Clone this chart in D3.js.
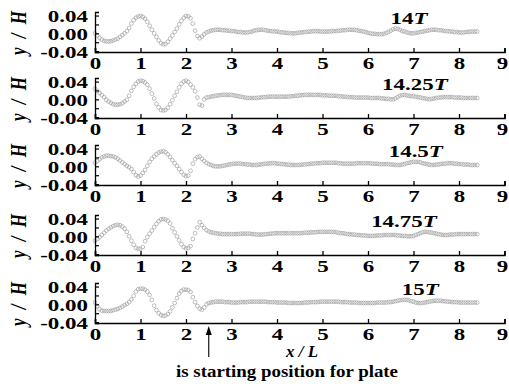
<!DOCTYPE html>
<html><head><meta charset="utf-8">
<script src="https://cdn.jsdelivr.net/npm/d3@7"></script>
<style>html,body{margin:0;padding:0;background:#fff;overflow:hidden}svg{display:block}</style>
</head><body><svg id="chart" width="509" height="384"></svg>
<script>
// ---------------- data ----------------
const panelNames = ["14", "14.25", "14.5", "14.75", "15"];
const xTickValues = [0, 1, 2, 3, 4, 5, 6, 7, 8, 9];
const yTickValues = [-0.04, -0.02, 0, 0.02, 0.04];
const yTickLabels = {"-0.04": "-0.04", "0": "0.00", "0.04": "0.04"};
const xValues = d3.range(170).map(i => +(i * 0.05).toFixed(2)); // sampling grid, 0 .. 8.45
const xMax = 8.4;

const y14 = [
 0.000,-0.005,-0.010,-0.014,-0.017,-0.018,-0.018,-0.018,-0.016,-0.014,
 -0.012,-0.008,-0.004,0.000,0.005,0.012,0.022,0.030,0.035,0.038,
 0.039,0.037,0.033,0.026,0.017,0.008,0.000,-0.008,-0.016,-0.022,
 -0.025,-0.024,-0.019,-0.012,-0.005,0.003,0.011,0.020,0.028,0.035,
 0.039,0.038,0.034,0.022,0.006,-0.006,-0.011,-0.007,-0.002,0.002,
 0.004,0.006,0.007,0.008,0.008,0.008,0.007,0.007,0.006,0.006,
 0.005,0.005,0.004,0.003,0.003,0.002,0.002,0.002,0.003,0.004,
 0.006,0.007,0.008,0.008,0.008,0.007,0.006,0.005,0.005,0.004,
 0.004,0.003,0.002,0.002,0.001,0.001,0.000,0.000,0.000,0.001,
 0.002,0.002,0.003,0.003,0.004,0.004,0.005,0.005,0.005,0.004,
 0.004,0.004,0.004,0.004,0.005,0.005,0.005,0.006,0.006,0.007,
 0.007,0.008,0.008,0.008,0.008,0.007,0.006,0.005,0.004,0.003,
 0.001,0.000,-0.001,-0.001,-0.002,-0.002,-0.002,-0.001,0.001,0.003,
 0.006,0.009,0.011,0.010,0.008,0.005,0.004,0.002,0.001,0.000,
 0.000,0.001,0.002,0.003,0.004,0.005,0.006,0.007,0.008,0.008,
 0.008,0.007,0.007,0.006,0.005,0.005,0.004,0.004,0.003,0.003,
 0.002,0.002,0.002,0.003,0.003,0.004,0.004,0.004,0.004,0.004];

const y1425 = [
 0.024,0.019,0.014,0.010,0.005,-0.001,-0.005,-0.008,-0.011,-0.012,
 -0.012,-0.011,-0.009,-0.005,-0.001,0.008,0.019,0.028,0.035,0.040,
 0.042,0.041,0.038,0.033,0.024,0.013,0.002,-0.010,-0.018,-0.024,
 -0.025,-0.024,-0.019,-0.011,-0.002,0.008,0.017,0.027,0.035,0.040,
 0.042,0.039,0.033,0.027,0.018,0.004,-0.012,-0.014,0.000,0.004,
 0.005,0.006,0.007,0.008,0.009,0.009,0.010,0.010,0.010,0.010,
 0.010,0.009,0.008,0.007,0.006,0.005,0.004,0.003,0.003,0.003,
 0.003,0.003,0.004,0.004,0.005,0.005,0.006,0.006,0.006,0.006,
 0.006,0.006,0.006,0.006,0.006,0.006,0.007,0.007,0.008,0.008,
 0.009,0.009,0.010,0.010,0.010,0.010,0.010,0.010,0.010,0.010,
 0.009,0.009,0.009,0.008,0.008,0.008,0.008,0.007,0.007,0.006,
 0.006,0.005,0.005,0.005,0.004,0.004,0.004,0.004,0.004,0.004,
 0.004,0.003,0.003,0.003,0.003,0.003,0.002,0.002,0.001,0.001,
 0.000,0.000,0.002,0.005,0.008,0.010,0.010,0.009,0.008,0.007,
 0.007,0.006,0.005,0.004,0.003,0.002,0.001,0.000,0.001,0.002,
 0.003,0.004,0.004,0.005,0.005,0.005,0.005,0.005,0.004,0.004,
 0.004,0.004,0.003,0.003,0.003,0.003,0.003,0.003,0.003,0.003];

const y145 = [
 0.008,0.012,0.016,0.020,0.022,0.024,0.024,0.023,0.022,0.020,
 0.017,0.013,0.009,0.005,0.001,-0.002,-0.006,-0.013,-0.020,-0.023,
 -0.021,-0.015,-0.008,0.001,0.010,0.017,0.022,0.027,0.031,0.033,
 0.034,0.032,0.027,0.021,0.014,0.007,0.001,-0.006,-0.013,-0.019,
 -0.022,-0.021,-0.010,0.006,0.016,0.021,0.022,0.017,0.012,0.008,
 0.005,0.003,0.001,0.000,0.000,0.000,0.001,0.002,0.003,0.004,
 0.005,0.006,0.006,0.006,0.006,0.005,0.005,0.004,0.004,0.003,
 0.003,0.003,0.004,0.004,0.005,0.006,0.006,0.007,0.007,0.007,
 0.006,0.006,0.005,0.005,0.004,0.004,0.003,0.003,0.003,0.003,
 0.003,0.004,0.004,0.005,0.005,0.006,0.006,0.007,0.007,0.007,
 0.008,0.008,0.008,0.008,0.008,0.008,0.008,0.007,0.007,0.006,
 0.006,0.006,0.006,0.006,0.006,0.007,0.007,0.007,0.007,0.007,
 0.007,0.007,0.006,0.006,0.006,0.005,0.005,0.005,0.005,0.005,
 0.004,0.004,0.003,0.003,0.003,0.004,0.005,0.007,0.008,0.009,
 0.010,0.010,0.010,0.009,0.007,0.006,0.005,0.004,0.003,0.003,
 0.004,0.004,0.005,0.006,0.006,0.007,0.007,0.007,0.006,0.006,
 0.005,0.005,0.004,0.004,0.004,0.003,0.003,0.003,0.003,0.003];

const y1475 = [
 -0.010,-0.006,-0.002,0.003,0.008,0.013,0.017,0.020,0.023,0.025,
 0.026,0.025,0.022,0.017,0.010,0.000,-0.010,-0.019,-0.026,-0.028,
 -0.028,-0.024,-0.011,-0.002,0.006,0.013,0.021,0.028,0.034,0.038,
 0.039,0.038,0.035,0.029,0.018,0.009,0.000,-0.009,-0.018,-0.024,
 -0.027,-0.026,-0.022,-0.006,0.007,0.020,0.032,0.025,0.019,0.014,
 0.011,0.009,0.008,0.007,0.006,0.006,0.005,0.005,0.005,0.005,
 0.005,0.005,0.005,0.005,0.006,0.006,0.006,0.006,0.006,0.005,
 0.005,0.004,0.004,0.004,0.004,0.005,0.005,0.006,0.006,0.007,
 0.007,0.007,0.007,0.007,0.007,0.007,0.007,0.007,0.007,0.007,
 0.007,0.007,0.008,0.008,0.008,0.009,0.009,0.009,0.010,0.010,
 0.010,0.010,0.010,0.010,0.010,0.010,0.009,0.008,0.007,0.007,
 0.006,0.005,0.005,0.004,0.004,0.003,0.003,0.002,0.002,0.002,
 0.001,0.001,0.001,0.001,0.002,0.002,0.002,0.003,0.003,0.003,
 0.003,0.003,0.003,0.002,0.002,0.001,0.001,0.000,0.000,0.000,
 0.001,0.003,0.005,0.007,0.009,0.010,0.010,0.009,0.008,0.007,
 0.006,0.005,0.004,0.003,0.003,0.003,0.004,0.004,0.004,0.005,
 0.005,0.005,0.005,0.005,0.005,0.005,0.005,0.005,0.005,0.005];

const y15 = [
 0.004,-0.004,-0.011,-0.014,-0.015,-0.015,-0.015,-0.015,-0.013,-0.012,
 -0.010,-0.008,-0.005,-0.002,0.001,0.005,0.011,0.019,0.029,0.034,
 0.035,0.035,0.033,0.029,0.021,0.010,-0.003,-0.013,-0.020,-0.024,
 -0.026,-0.025,-0.022,-0.016,-0.007,0.003,0.014,0.024,0.030,0.033,
 0.033,0.032,0.028,0.016,0.005,-0.004,-0.010,-0.012,-0.007,0.000,
 0.003,0.004,0.005,0.006,0.006,0.006,0.006,0.005,0.005,0.005,
 0.004,0.004,0.004,0.004,0.005,0.005,0.005,0.005,0.006,0.006,
 0.006,0.006,0.006,0.006,0.006,0.006,0.005,0.005,0.005,0.005,
 0.004,0.004,0.004,0.004,0.004,0.003,0.003,0.003,0.003,0.003,
 0.003,0.003,0.004,0.004,0.004,0.005,0.005,0.005,0.005,0.006,
 0.006,0.006,0.006,0.006,0.006,0.006,0.006,0.006,0.005,0.005,
 0.005,0.005,0.004,0.004,0.004,0.004,0.003,0.003,0.003,0.003,
 0.003,0.003,0.003,0.003,0.004,0.004,0.004,0.004,0.004,0.005,
 0.005,0.006,0.007,0.008,0.009,0.010,0.010,0.010,0.009,0.007,
 0.006,0.004,0.003,0.003,0.003,0.004,0.005,0.006,0.007,0.008,
 0.008,0.008,0.008,0.007,0.007,0.006,0.006,0.005,0.005,0.005,
 0.004,0.004,0.004,0.004,0.004,0.004,0.004,0.004,0.004,0.004];

const seriesValues = [y14, y1425, y145, y1475, y15];
const labelXPositions = [6.90, 7.03, 7.05, 6.79, 7.15];   // x (in x/L units) of the panel labels
const plateStart = 2.5;
const xTitle = "x / L";
const yTitle = "y / H";
const noteText = "is starting position for plate";

// ---------------- layout ----------------
const svg = d3.select("#chart");
svg.append("rect").attr("width", 509).attr("height", 384).attr("fill", "#fff");
const FONT = "\"Liberation Serif\", \"DejaVu Serif\", serif";
const SX = 1.35;
const panelBottoms = [52, 118, 185, 255, 323];
const x = d3.scaleLinear().domain([0, 9]).range([95, 504.5]);

function serif(sel, size, weight, italic) {
  sel.attr("font-family", FONT).attr("font-size", size)
     .attr("font-weight", weight || "bold").attr("font-style", italic ? "italic" : "normal")
     .style("font-family", FONT);
  return sel;
}

panelBottoms.forEach((b, i) => {
  const y = d3.scaleLinear().domain([-0.042, 0.048]).range([b, b - 40]);
  const g = svg.append("g");

  // data points
  const pts = xValues.map((xv, j) => [xv, seriesValues[i][j]]).filter(d => d[0] <= xMax + 1e-9);
  g.append("g").selectAll("circle").data(pts).join("circle")
    .attr("cx", d => x(d[0])).attr("cy", d => y(d[1]))
    .attr("r", 1.9).attr("fill", "none")
    .attr("stroke", "#9c9c9c").attr("stroke-width", 0.65);

  // x axis
  const gx = g.append("g").attr("transform", `translate(0,${b})`)
    .call(d3.axisBottom(x).tickValues(xTickValues).tickSize(-4).tickSizeOuter(-4).tickFormat(d3.format("d")));
  gx.attr("font-family", FONT).attr("font-size", 17);
  gx.select(".domain").attr("stroke", "#000").attr("stroke-width", 1.6);
  gx.selectAll(".tick line").attr("stroke", "#000").attr("stroke-width", 1.3);
  serif(gx.selectAll(".tick text"), 17).attr("y", 17).attr("dy", null)
    .attr("x", d => d === 9 ? -2.5 / SX : 0)
    .attr("transform", `scale(${SX},1)`).attr("fill", "#000");

  // y axis
  const gy = g.append("g").attr("transform", `translate(${x(0)},0)`)
    .call(d3.axisLeft(y).tickValues(yTickValues).tickSize(-4).tickSizeOuter(-4)
      .tickFormat(d => yTickLabels[String(+d.toFixed(2))] || ""));
  gy.attr("font-family", FONT).attr("font-size", 17);
  gy.select(".domain").attr("stroke", "#000").attr("stroke-width", 1.3);
  gy.selectAll(".tick line").attr("stroke", "#000").attr("stroke-width", 1.2);
  serif(gy.selectAll(".tick text"), 17).attr("x", -7 / SX).attr("dy", "0.35em")
    .attr("transform", `scale(${SX},1)`).attr("fill", "#000");

  // y title
  serif(g.append("text"), 17, "bold", true)
    .attr("transform", `translate(18.5,${b - 19}) scale(${SX},1) rotate(-90)`)
    .attr("text-anchor", "middle").attr("dominant-baseline", "central")
    .attr("textLength", 44).attr("lengthAdjust", "spacing")
    .text(yTitle);

  // panel label
  const lab = serif(g.append("text"), 17)
    .attr("transform", `translate(${x(labelXPositions[i])},${b - 34}) scale(${SX},1)`)
    .attr("text-anchor", "middle").attr("dominant-baseline", "central");
  lab.append("tspan").text(panelNames[i]);
  lab.append("tspan").attr("font-style", "italic").text("T");
});

// x title
serif(svg.append("text"), 17, "bold", true).attr("x", 302).attr("y", 357)
  .attr("text-anchor", "middle").attr("textLength", 32).attr("lengthAdjust", "spacingAndGlyphs")
  .text(xTitle);

// arrow marking plate start
const ax = x(plateStart);
svg.append("line").attr("x1", ax).attr("x2", ax).attr("y1", 357).attr("y2", 332)
  .attr("stroke", "#000").attr("stroke-width", 1.1);
svg.append("path").attr("d", `M${ax},326 L${ax - 3},335 L${ax + 3},335 Z`).attr("fill", "#000");

// note
serif(svg.append("text"), 17, "bold").attr("x", 287).attr("y", 377)
  .attr("text-anchor", "middle").attr("textLength", 222).attr("lengthAdjust", "spacingAndGlyphs")
  .text(noteText);
</script>
</body></html>
